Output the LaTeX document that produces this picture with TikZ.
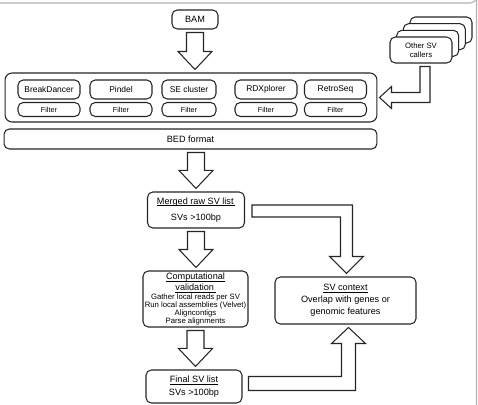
\documentclass[tikz,border=0pt]{standalone}
\usepackage{fontspec}
\setmainfont{Liberation Sans}
\usetikzlibrary{calc}
\tikzset{
	box/.style = {draw=black!85, line width=0.6pt, rounded corners=3pt, align=center, inner sep=0pt, fill=white},
	mainbox/.style = {box, font=\fontsize{5.2}{6.8}\selectfont},
	toolbox/.style = {box, minimum width=1.24cm, minimum height=0.38cm, font=\fontsize{4.8}{5.5}\selectfont},
	filterbox/.style = {box, minimum width=1.24cm, minimum height=0.28cm, font=\fontsize{4.1}{4.5}\selectfont},
	callerbox/.style = {box, minimum width=1.24cm, minimum height=0.52cm, font=\fontsize{4.4}{5.1}\selectfont},
	blockarrow/.style = {draw=black!85, line width=0.6pt, fill=white, line join=miter}
}
% thin underline, close to the text
\newcommand{\ulined}[1]{\setbox0\hbox{#1}\rlap{\rule[-0.9pt]{\wd0}{0.3pt}}\box0}
% hollow arrow pointing down, from a source anchor to a target anchor
\newcommand{\blockdown}[2]{%
	\draw[blockarrow] ($(#1)+(-8.5,3)$) -- ($(#1 |- #2)+(-8.5,-21)$) -- ($(#1 |- #2)+(-17,-21)$)
		-- ($(#1 |- #2)+(0,-3)$) -- ($(#1 |- #2)+(17,-21)$) -- ($(#1 |- #2)+(8.5,-21)$)
		-- ($(#1)+(8.5,3)$) -- cycle;}

\begin{document}
\begin{tikzpicture}[x=0.02cm, y=-0.02cm]
	\useasboundingbox (0,0) rectangle (478,405);
	% frame
	\draw[gray!60, line width=0.6pt] (0,3) -- (470,3) arc[start angle=90, end angle=0, radius=6.5] -- (476.5,405);

	\node [mainbox, minimum width=0.92cm, minimum height=0.38cm] (bam) at (195,19.5) {BAM};

	% callers
	\node [box, rounded corners=4pt, minimum width=7.44cm, minimum height=0.98cm] (callers) at (191,97.5) {};
	\node [toolbox] (bd) at (49,89.5) {BreakDancer};
	\node [toolbox] (pindel) at (121,89.5) {Pindel};
	\node [toolbox, minimum width=1.08cm] (se) at (189,89.5) {SE cluster};
	\node [toolbox] (rdx) at (266,89.5) {RDXplorer};
	\node [toolbox] (retro) at (335.5,89.5) {RetroSeq};
	\node [filterbox] (bdfilter) at (49,109.5) {Filter};
	\node [filterbox] (pindelfilter) at (121,109.5) {Filter};
	\node [filterbox, minimum width=1.08cm] (sefilter) at (189,109.5) {Filter};
	\node [filterbox] (rdxfilter) at (266,109.5) {Filter};
	\node [filterbox] (retrofilter) at (335.5,109.5) {Filter};

	% other callers, stacked
	\node [callerbox] (other3) at (441,30) {};
	\node [callerbox] (other2) at (434.3,36.7) {};
	\node [callerbox] (other1) at (427.7,43.3) {};
	\node [callerbox] (others) at (421,50) {Other SV\\callers};

	\node [mainbox, minimum width=7.46cm, minimum height=0.40cm] (bed) at (190.5,139) {BED format};
	\coordinate (bedout) at (bed.south -| 196,0);

	\node [mainbox, minimum width=1.94cm, minimum height=0.72cm] (merged) at (196,210)
		{\ulined{Merged raw SV list\,}\\[2.4pt] SVs >100bp};
	\node [box, minimum width=2.10cm, minimum height=1.12cm, font=\fontsize{4.4}{4.5}\selectfont] (valid) at (195.5,299)
		{{\fontsize{5.2}{5.6}\selectfont\ulined{Computational}}\\[0.4pt]
		 {\fontsize{5.2}{5.6}\selectfont\ulined{validation\,}}\\[0.6pt]
		 Gather local reads per SV\\ Run local assemblies (Velvet)\\ Aligncontigs\\ Parse alignments};
	\node [mainbox, minimum width=1.92cm, minimum height=0.66cm] (final) at (194,386.5)
		{\ulined{Final SV list}\\[0.2pt] SVs >100bp};
	\node [mainbox, minimum width=2.82cm, minimum height=0.94cm] (context) at (345.5,300.5)
		{\ulined{SV context}\\[0.2pt] Overlap with genes or\\ genomic features};

	% straight arrows
	\blockdown{bam.south}{callers.north}
	\blockdown{bedout}{merged.north}
	\blockdown{merged.south}{valid.north}
	\blockdown{valid.south}{final.north}

	% elbow arrows
	\draw[blockarrow] ($(others.south)+(-1,3)$) -- ($(others.south |- callers.east)+(-1,-5)$)
		-- ($(callers.east)+(14,-5)$) -- ($(callers.east)+(14,-11)$) -- ($(callers.east)+(2,0)$)
		-- ($(callers.east)+(14,11)$) -- ($(callers.east)+(14,5)$)
		-- ($(others.south |- callers.east)+(9,5)$) -- ($(others.south)+(9,3)$) -- cycle;
	\draw[blockarrow] ($(merged.east)+(7,-5)$) -- ($(merged.east -| context.north)+(7,-5)$)
		-- ($(context.north)+(7,-20)$) -- ($(context.north)+(18,-20)$) -- ($(context.north)+(1,-3)$)
		-- ($(context.north)+(-16,-20)$) -- ($(context.north)+(-5,-20)$)
		-- ($(merged.east -| context.north)+(-5,7)$) -- ($(merged.east)+(7,7)$) -- cycle;
	\draw[blockarrow] ($(final.east)+(6,4)$) -- ($(final.east -| context.south)+(10,4)$)
		-- ($(context.south)+(10,19)$) -- ($(context.south)+(20,19)$) -- ($(context.south)+(3,3)$)
		-- ($(context.south)+(-14,19)$) -- ($(context.south)+(-4,19)$)
		-- ($(final.east -| context.south)+(-4,-10)$) -- ($(final.east)+(6,-10)$) -- cycle;
\end{tikzpicture}
\end{document}
